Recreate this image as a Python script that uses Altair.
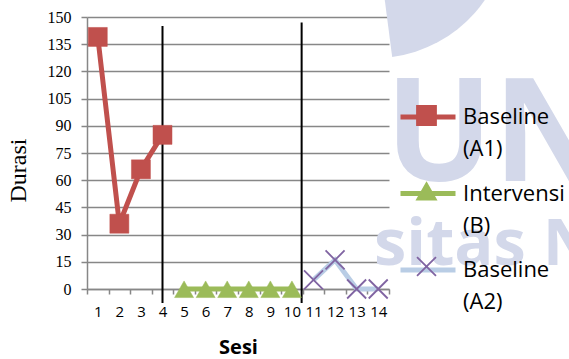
import altair as alt
import pandas as pd

# Session numbers and measured duration per phase
sessions = list(range(1, 15))
sesi_a1 = [1, 2, 3, 4]
durasi_a1 = [139, 36, 66, 85]
sesi_b = [5, 6, 7, 8, 9, 10]
durasi_b = [0, 0, 0, 0, 0, 0]
sesi_a2 = [11, 12, 13, 14]
durasi_a2 = [5, 16, 0, 0]

series_names = ["Baseline (A1)", "Intervensi (B)", "Baseline (A2)"]
series_codes = ["A1", "B", "A2"]
line_colors = ["#C0504D", "#9BBB59", "#B9CDE5"]
marker_fill = ["#C0504D", "#9BBB59", "transparent"]
marker_stroke = ["#C0504D", "#9BBB59", "#8064A2"]

# Phase-change lines (between A1/B and B/A2)
phase_x = [4.0, 10.45]
phase_top = [145, 147]
phase_bottom = [-7.7, -7.7]

y_ticks = list(range(0, 151, 15))
x_bounds = [i + 0.5 for i in range(0, 15)]

watermark_big = ["UN"]
watermark_small = ["sitas N"]

rows = []
for name, code, xs, ys in zip(series_names, series_codes,
                              [sesi_a1, sesi_b, sesi_a2],
                              [durasi_a1, durasi_b, durasi_a2]):
    for s, d in zip(xs, ys):
        rows.append({"sesi": s, "durasi": d, "seri": name, "kode": code})
df = pd.DataFrame(rows)

phase_df = pd.DataFrame({"sesi": phase_x, "atas": phase_top, "bawah": phase_bottom})

x_scale = alt.Scale(domain=[0.5, 14.5], nice=False, zero=False)
y_scale = alt.Scale(domain=[0, 150], nice=False, zero=True)

GRID = "#878787"
WM = "#D3D8EA"
LEGEND_X = 311
LEGEND_Y = 70
ROW_PAD = 3.5

# Faint background emblem and lettering
wm_arc = alt.Chart(pd.DataFrame({"t": [0]})).mark_arc(
    theta=1.5708, theta2=3.012, radius=133, color=WM
).encode(x=alt.value(288), y=alt.value(-92))

wm1 = alt.Chart(pd.DataFrame({"t": watermark_big})).mark_text(
    font="Open Sans", fontSize=143, fontWeight="bold", color=WM,
    align="left", baseline="alphabetic"
).encode(text="t:N", x=alt.value(298), y=alt.value(164))

wm2 = alt.Chart(pd.DataFrame({"t": watermark_small})).mark_text(
    font="Open Sans", fontSize=65, fontWeight="bold", color=WM,
    align="left", baseline="alphabetic"
).encode(text="t:N", x=alt.value(287), y=alt.value(248))

lines = alt.Chart(df).mark_line(strokeWidth=5, clip=False).encode(
    x=alt.X("sesi:Q", scale=x_scale, axis=alt.Axis(
        orient="bottom", values=sessions, title="Sesi", ticks=False, tickSize=0,
        grid=False, domain=False, labelPadding=15, labelFont="Open Sans",
        labelFontSize=15, labelColor="black", labelFlush=False, labelOverlap=False,
        titleFont="Open Sans", titleFontSize=20, titleFontWeight="bold",
        titleColor="black", titlePadding=18)),
    y=alt.Y("durasi:Q", scale=y_scale, axis=alt.Axis(
        orient="left", values=y_ticks, title="Durasi", grid=True, gridColor=GRID,
        gridWidth=1.5, domain=True, domainColor=GRID, domainWidth=1.5,
        ticks=True, tickColor=GRID, tickWidth=1.5, tickSize=6,
        labelPadding=10, labelFont="Liberation Serif", labelFontSize=16,
        labelColor="black", labelFlush=False,
        titleFont="Liberation Serif", titleFontSize=24, titleFontWeight="normal",
        titleColor="black", titleAngle=-90, titleX=-69, titleY=153,
        titleAlign="center", titleBaseline="middle")),
    color=alt.Color("seri:N", scale=alt.Scale(domain=series_names, range=line_colors),
                    legend=alt.Legend(
                        title=None, orient="none", legendX=LEGEND_X, legendY=LEGEND_Y,
                        padding=0, symbolType="M-1,0H1", symbolSize=3025,
                        symbolStrokeWidth=5, labelExpr="split(datum.label, ' ')",
                        labelFont="Open Sans", labelFontSize=22, labelColor="black",
                        labelOffset=5, labelBaseline="middle", labelLimit=300,
                        rowPadding=ROW_PAD)),
)

def markers(code, shape, fill, stroke, width):
    return alt.Chart(df).transform_filter(alt.datum.kode == code).mark_point(
        shape=shape, size=361, filled=fill is not None, fill=fill or "transparent",
        stroke=stroke, strokeWidth=width, opacity=1, clip=False
    ).encode(
        x=alt.X("sesi:Q", scale=x_scale, axis=None),
        y=alt.Y("durasi:Q", scale=y_scale, axis=None),
    )

pts_a1 = markers("A1", "square", "#C0504D", "#C0504D", 0.5)
pts_b = markers("B", "M0,-0.85L1,0.9L-1,0.9Z", "#9BBB59", "#9BBB59", 0.5)
pts_a2 = markers("A2", "M-1,-1L1,1M-1,1L1,-1", None, "#8064A2", 1.8)

# Legend markers drawn over the legend line symbols
legend_shapes = [
    "M-0.345,-0.345H0.345V0.345H-0.345Z",
    "M0,-0.29L0.345,0.313L-0.345,0.313Z",
    "M-0.345,-0.345L0.345,0.345M-0.345,0.345L0.345,-0.345",
]
marker_legend = alt.Legend(
    title=None, orient="none", legendX=LEGEND_X, legendY=LEGEND_Y, padding=0,
    symbolSize=3025, symbolStrokeWidth=1.8, labelExpr="['Baseline', '(A0)']",
    labelFont="Open Sans", labelFontSize=22, labelOpacity=0, labelOffset=5,
    labelBaseline="middle", labelLimit=300, rowPadding=ROW_PAD)
legend_marks = alt.Chart(df).transform_filter("false").mark_point(opacity=1).encode(
    shape=alt.Shape("kode:N", scale=alt.Scale(domain=series_codes, range=legend_shapes),
                    legend=marker_legend),
    fill=alt.Fill("kode:N", scale=alt.Scale(domain=series_codes, range=marker_fill),
                  legend=marker_legend),
    stroke=alt.Stroke("kode:N", scale=alt.Scale(domain=series_codes, range=marker_stroke),
                      legend=marker_legend),
)

# Phase lines, plus the category tick marks along the bottom
phases = alt.Chart(phase_df).mark_rule(color="black", strokeWidth=2, clip=False).encode(
    x=alt.X("sesi:Q", scale=x_scale, axis=alt.Axis(
        orient="bottom", values=x_bounds, labels=False, title=None, grid=False,
        ticks=True, tickSize=5, tickColor=GRID, tickWidth=1.5, domain=True,
        domainColor=GRID, domainWidth=1.5)),
    y=alt.Y("atas:Q", scale=y_scale, axis=None),
    y2="bawah:Q",
)

chart = alt.layer(
    wm_arc, wm1, wm2, phases, lines, pts_a1, pts_b, pts_a2, legend_marks
).resolve_axis(x="independent", y="independent").properties(
    width=302, height=272,
    autosize=alt.AutoSizeParams(type="none"),
    padding={"left": 87, "top": 17, "right": 180, "bottom": 70},
    background="white",
).configure(
    style={"guide-label": {"lineHeight": 32}}
).configure_view(stroke="transparent")

chart.save("out.html", embed_options={"renderer": "svg", "actions": False})
